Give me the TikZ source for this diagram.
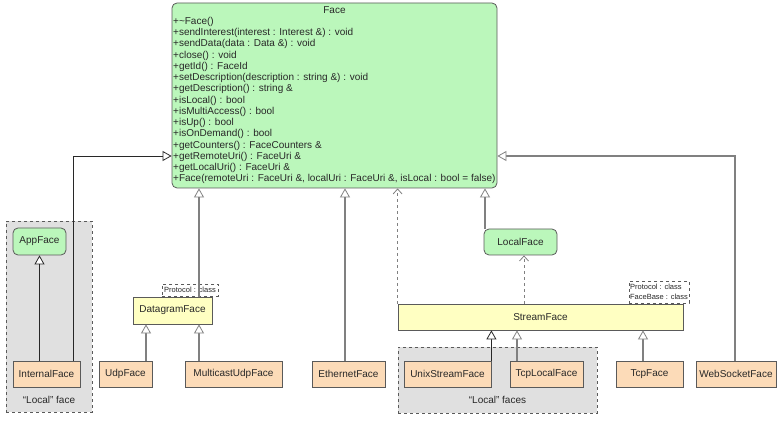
\documentclass[tikz,border=0pt]{standalone}
\usepackage{fontspec}
\setmainfont{Liberation Sans}
\usetikzlibrary{arrows.meta}

\definecolor{facegreen}{RGB}{187,247,187}
\definecolor{implorange}{RGB}{252,219,184}
\definecolor{tmplyellow}{RGB}{255,255,194}
\definecolor{groupgray}{RGB}{224,224,224}
\definecolor{edgegray}{RGB}{128,128,128}
\definecolor{boxedge}{RGB}{90,90,90}
\definecolor{inktext}{RGB}{40,40,40}

\tikzset{
  classfont/.style={font=\fontsize{10}{12}\selectfont, text=inktext},
  ifacebox/.style={classfont, draw=boxedge, fill=facegreen, rounded corners=5pt, line width=0.8pt},
  implbox/.style={classfont, draw=boxedge, fill=implorange, line width=0.8pt, minimum height=26pt, inner sep=0pt},
  tmplbox/.style={classfont, draw=boxedge, fill=tmplyellow, line width=0.8pt, inner sep=0pt},
  parambox/.style={font=\fontsize{7.5}{10}\selectfont, text=inktext, draw=boxedge, dashed, fill=white, line width=0.7pt, inner sep=1pt, align=left},
  groupbox/.style={draw=boxedge, dashed, fill=groupgray, line width=0.8pt, inner sep=0pt},
  gen/.style={draw=edgegray, line width=1.3pt, -{Triangle[length=9pt,width=10pt,fill=white,line width=0.8pt]}},
  gendark/.style={draw=inktext, line width=0.8pt, -{Triangle[length=9pt,width=10pt,fill=white,line width=0.8pt]}},
  dep/.style={draw=edgegray, line width=0.9pt, dashed, -{Straight Barb[length=5pt,width=9pt,line width=0.8pt]}}
}

\begin{document}
\begin{tikzpicture}[x=1pt,y=-1pt]
    \useasboundingbox (0,0) rectangle (779,430);

    % groups of local faces
    \node[groupbox, minimum width=86pt, minimum height=191pt] (localgrp) at (49,316.5) {};
    \node[classfont] (localgrplabel) at (49,400) {``Local'' face};
    \node[groupbox, minimum width=199pt, minimum height=66pt] (streamgrp) at (497.5,380) {};
    \node[classfont] (streamgrplabel) at (497.5,400) {``Local'' faces};

    % base class
    \node[ifacebox, minimum width=325pt, minimum height=185pt] (face) at (334.5,95.5) {};
    \node[classfont] (facetitle) at (334.5,10) {Face};
    \node[classfont, anchor=north west, align=left, inner sep=0pt, font=\fontsize{10}{11.24}\selectfont] (facemethods) at (173,17) {%
        +\textasciitilde Face()\\
        +sendInterest(interest : Interest \&) : void\\
        +sendData(data : Data \&) : void\\
        +close() : void\\
        +getId() : FaceId\\
        +setDescription(description : string \&) : void\\
        +getDescription() : string \&\\
        +isLocal() : bool\\
        +isMultiAccess() : bool\\
        +isUp() : bool\\
        +isOnDemand() : bool\\
        +getCounters() : FaceCounters \&\\
        +getRemoteUri() : FaceUri \&\\
        +getLocalUri() : FaceUri \&\\
        +Face(remoteUri : FaceUri \&, localUri : FaceUri \&, isLocal : bool = false)};

    % intermediate classes
    \node[ifacebox, minimum width=53pt, minimum height=27pt, inner sep=0pt] (appface) at (39.5,241.5) {AppFace};
    \node[ifacebox, minimum width=73pt, minimum height=26pt, inner sep=0pt] (localface) at (520.5,242) {LocalFace};
    \node[tmplbox, minimum width=79pt, minimum height=27pt] (datagram) at (172.5,310.5) {DatagramFace};
    \node[tmplbox, minimum width=285pt, minimum height=26pt] (stream) at (540.5,317) {StreamFace};

    % concrete faces
    \node[implbox, minimum width=67pt] (internal) at (46.5,374) {InternalFace};
    \node[implbox, minimum width=53pt] (udp) at (125.5,374) {UdpFace};
    \node[implbox, minimum width=97pt] (multicast) at (233.5,374) {MulticastUdpFace};
    \node[implbox, minimum width=73pt] (ethernet) at (348.5,374) {EthernetFace};
    \node[implbox, minimum width=87pt] (unixstream) at (447.5,374) {UnixStreamFace};
    \node[implbox, minimum width=73pt] (tcplocal) at (546.5,374) {TcpLocalFace};
    \node[implbox, minimum width=67pt] (tcp) at (649.5,374) {TcpFace};
    \node[implbox, minimum width=80pt] (websocket) at (736,374) {WebSocketFace};

    % template parameters
    \node[parambox, minimum width=56pt, minimum height=12pt] (datagramparam) at (190,290) {Protocol : class};
    \node[parambox, minimum width=60pt, minimum height=22pt] (streamparam) at (659,292) {Protocol : class\\FaceBase : class};

    % inheritance
    \draw[gendark] (internal.north -| 39.5,0) -- (appface.south);
    \draw[gendark] (internal.north -| 73,0) |- ([yshift=-60.5pt]face.west);
    \draw[gen] (udp.north -| 146,0) -- (datagram.south -| 146,0);
    \draw[gen] (multicast.north -| 199,0) -- (datagram.south -| 199,0);
    \draw[gen] (datagram.north -| 199,0) -- (face.south -| 199,0);
    \draw[gen] (ethernet.north -| 345,0) -- (face.south -| 345,0);
    \draw[gen] (localface.north -| 485,0) -- (face.south -| 485,0);
    \draw[gendark] (unixstream.north east) -- (stream.south -| unixstream.north east);
    \draw[gen] (tcplocal.north -| 517,0) -- (stream.south -| 517,0);
    \draw[gen] (tcp.north -| 643,0) -- (stream.south -| 643,0);
    \draw[gen] (websocket.north -| 735,0) |- ([yshift=-60.5pt]face.east);

    % realisation
    \draw[dep] (stream.north west) -- (face.south -| stream.north west);
    \draw[dep] (stream.north -| 524,0) -- (localface.south -| 524,0);
\end{tikzpicture}
\end{document}
